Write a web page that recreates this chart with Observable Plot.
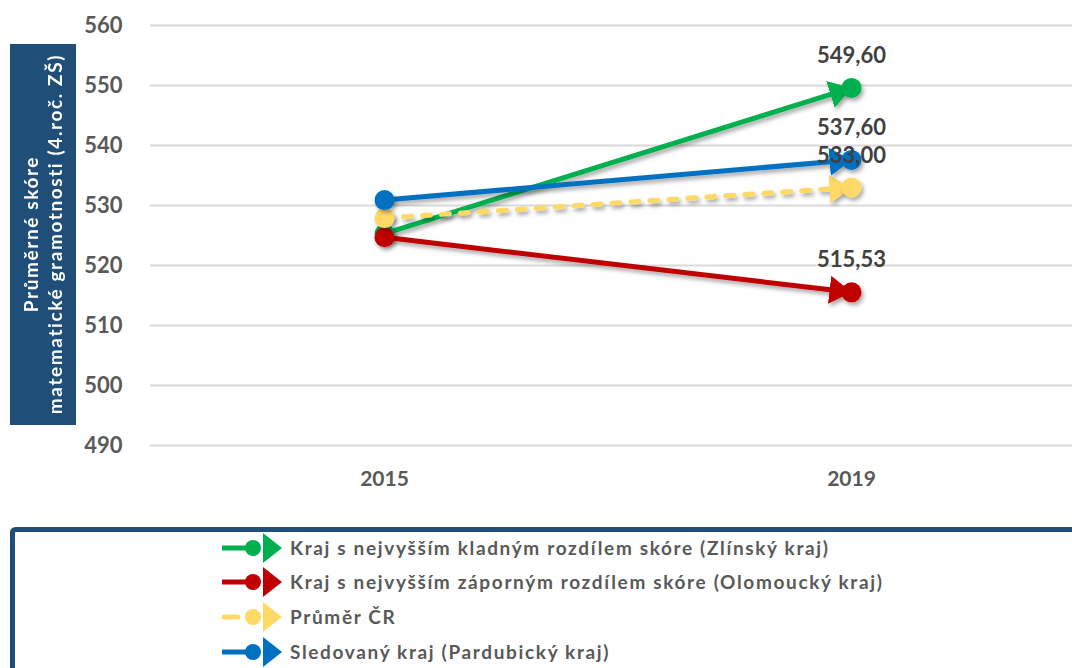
<!DOCTYPE html>
<html>
<head>
<meta charset="utf-8">
<script src="https://cdn.jsdelivr.net/npm/d3@7"></script>
<script src="https://cdn.jsdelivr.net/npm/@observablehq/plot@0.6"></script>
<style>
  html, body { margin: 0; padding: 0; background: #fff; }
  #wrap { position: relative; width: 1072px; height: 668px; overflow: hidden; background: #fff; font-family: Lato, "Open Sans", sans-serif; }
  #chart { position: absolute; left: 0; top: 0; }
  #ytitle { position: absolute; left: 10px; top: 44px; width: 66px; height: 381px; background: #1F4E79;
            display: flex; align-items: center; justify-content: center; }
  #ytitle span { writing-mode: vertical-rl; transform: rotate(180deg); color: #fff; font-weight: bold;
            font-size: 19px; letter-spacing: 1.6px; line-height: 24px; text-align: center; white-space: nowrap; }
  #legend { position: absolute; left: 0; top: 510px; }
</style>
</head>
<body>
<div id="wrap">
  <div id="chart"></div>
  <div id="ytitle"><span>Průměrné skóre<br>matematické gramotnosti (4.roč. ZŠ)</span></div>
  <svg id="legend" width="1072" height="158"></svg>
</div>
<script>
// ---- data ----
const years = [2015, 2019];
const seriesNames = [
  "Kraj s nejvyšším kladným rozdílem skóre (Zlínský kraj)",
  "Kraj s nejvyšším záporným rozdílem skóre (Olomoucký kraj)",
  "Průměr ČR",
  "Sledovaný kraj (Pardubický kraj)"
];
const zlinsky = [525.3, 549.60];
const olomoucky = [524.7, 515.53];
const prumerCR = [527.9, 533.00];
const pardubicky = [530.9, 537.60];
const yTicks = [490, 500, 510, 520, 530, 540, 550, 560];

// ---- styles ----
const seriesValues = [zlinsky, olomoucky, prumerCR, pardubicky];
const seriesColors = ["#00B050", "#C00000", "#FFD966", "#0070C0"];
const seriesDashed = [false, false, true, false];

const rows = [];
seriesNames.forEach((name, i) => {
  years.forEach((yr, j) => rows.push({series: name, idx: i, year: yr, value: seriesValues[i][j]}));
});
const fmt = v => d3.format(".2f")(v).replace(".", ",");
const lastRows = rows.filter(d => d.year === years[years.length - 1]);

const marks = [
  Plot.gridY(yTicks, {stroke: "#D9D9D9", strokeWidth: 2, strokeOpacity: 1}),
  Plot.axisY(yTicks, {tickSize: 0, tickPadding: 28, label: null, fontSize: 22}),
  Plot.axisX({tickSize: 0, tickPadding: 26, label: null, tickFormat: d => String(d)})
];
seriesNames.forEach((name, i) => {
  const data = rows.filter(d => d.idx === i);
  marks.push(Plot.line(data, {
    x: "year", y: "value", stroke: seriesColors[i], strokeWidth: 5,
    strokeLinecap: seriesDashed[i] ? "round" : "butt",
    strokeDasharray: seriesDashed[i] ? "8,11" : null
  }));
  marks.push(Plot.dot(data, {x: "year", y: "value", r: 10, fill: seriesColors[i], stroke: "none"}));
});
marks.push(Plot.text(lastRows, {
  x: "year", y: "value", text: d => fmt(d.value), dy: -32,
  fill: "#404040", fontSize: 22, fontWeight: "bold", textAnchor: "middle"
}));

const plot = Plot.plot({
  width: 1072, height: 510,
  marginTop: 25, marginBottom: 65, marginLeft: 150, marginRight: 0,
  style: {fontFamily: "Lato, 'Open Sans', sans-serif", fontSize: "21px", fontWeight: "bold", color: "#595959", background: "transparent", overflow: "visible"},
  x: {type: "point", domain: years, range: [384, 851], padding: 0, label: null},
  y: {domain: [490, 560], label: null},
  marks
});
document.getElementById("chart").appendChild(plot);

// arrowheads and shadows (post-processing of the Plot SVG)
const svg = d3.select(plot);
const defs = svg.insert("defs", ":first-child");
const filt = defs.append("filter").attr("id", "shadow").attr("filterUnits", "userSpaceOnUse")
  .attr("x", 0).attr("y", 0).attr("width", 1072).attr("height", 510);
filt.append("feDropShadow").attr("dx", 2).attr("dy", 3).attr("stdDeviation", 2)
  .attr("flood-color", "#000").attr("flood-opacity", 0.35);
seriesColors.forEach((c, i) => {
  defs.append("marker").attr("id", "arr" + i)
    .attr("viewBox", "0 0 22 28").attr("refX", 22).attr("refY", 14)
    .attr("markerUnits", "userSpaceOnUse").attr("markerWidth", 22).attr("markerHeight", 28)
    .attr("orient", "auto")
    .append("path").attr("d", "M0,0L22,14L0,28Z").attr("fill", c).attr("stroke", "none");
});
svg.selectAll('g[aria-label="line"]').each(function(_, i) {
  d3.select(this).attr("filter", "url(#shadow)");
  d3.select(this).selectAll("path").attr("marker-end", "url(#arr" + i + ")");
});
svg.selectAll('g[aria-label="dot"]').attr("filter", "url(#shadow)");

// ---- legend ----
const lg = d3.select("#legend");
lg.append("rect").attr("x", 12.5).attr("y", 19.5).attr("width", 1200).attr("height", 300)
  .attr("rx", 3).attr("fill", "#fff").attr("stroke", "#1F4E79").attr("stroke-width", 5);
const rowY = [38, 72, 107, 142];
seriesNames.forEach((name, i) => {
  const g = lg.append("g").attr("transform", `translate(0,${rowY[i]})`);
  g.append("line").attr("x1", seriesDashed[i] ? 224 : 222).attr("x2", seriesDashed[i] ? 238 : 253)
    .attr("y1", 0).attr("y2", 0).attr("stroke", seriesColors[i]).attr("stroke-width", 5)
    .attr("stroke-linecap", seriesDashed[i] ? "round" : "butt");
  g.append("circle").attr("cx", 253).attr("cy", 0).attr("r", 8).attr("fill", seriesColors[i]);
  g.append("path").attr("d", "M263,-15L282,0L263,15Z").attr("fill", seriesColors[i]);
  g.append("text").attr("x", 290).attr("y", 0).attr("dy", "0.35em").text(name)
    .attr("fill", "#595959").attr("font-size", 19).attr("font-weight", "bold")
    .attr("letter-spacing", 1.65)
    .attr("font-family", "Lato, 'Open Sans', sans-serif");
});
</script>
</body>
</html>
